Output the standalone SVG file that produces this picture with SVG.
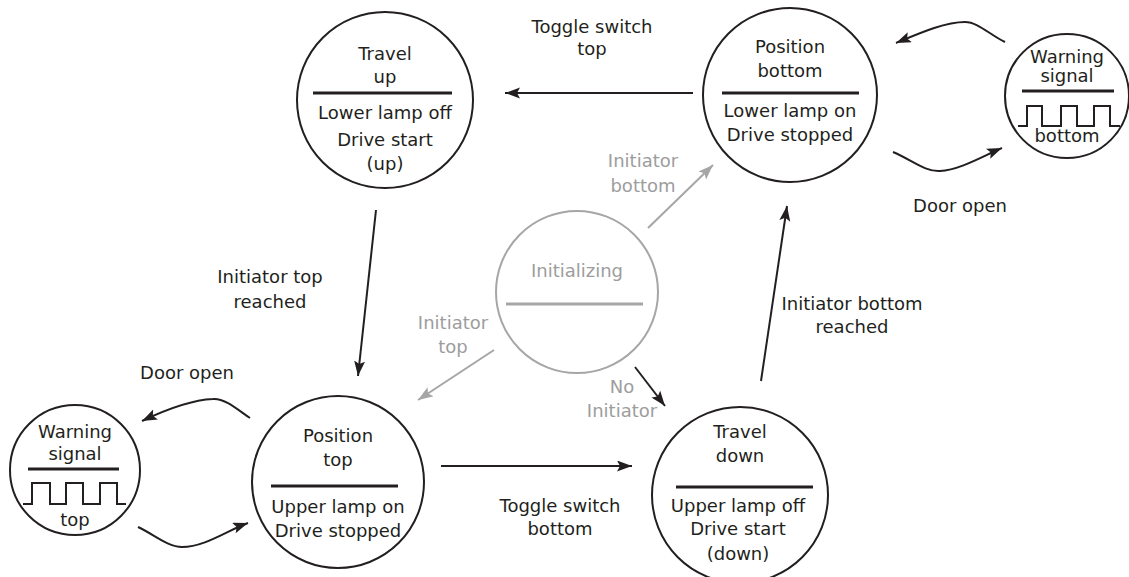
<svg xmlns="http://www.w3.org/2000/svg" width="1129" height="577" viewBox="0 0 1129 577">
<defs>
<style>
text{font-family:"DejaVu Sans","Verdana",sans-serif;font-size:18px;fill:#231f20;text-anchor:middle}
text.g{fill:#9d9d9d}
.st{fill:#fff;stroke:#231f20;stroke-width:2}
.sg{fill:#fff;stroke:#a6a6a6;stroke-width:2}
.dv{stroke:#231f20;stroke-width:3}
.dvg{stroke:#a6a6a6;stroke-width:3}
.wave{fill:none;stroke:#231f20;stroke-width:2}
.c{fill:none;stroke:#231f20;stroke-width:2;marker-end:url(#ah)}
.cg{fill:none;stroke:#a6a6a6;stroke-width:2;marker-end:url(#ahg)}
</style>
<marker id="ah" markerUnits="userSpaceOnUse" markerWidth="16" markerHeight="12" refX="15" refY="5.5" orient="auto">
<path d="M0,0 L15,5.5 L0,11 L3,5.5 z" fill="#231f20"/>
</marker>
<marker id="ahg" markerUnits="userSpaceOnUse" markerWidth="16" markerHeight="12" refX="15" refY="5.5" orient="auto">
<path d="M0,0 L15,5.5 L0,11 L3,5.5 z" fill="#a6a6a6"/>
</marker>
</defs>
<rect width="1129" height="577" fill="#fff"/>

<g id="connectors">
<line class="c" x1="693" y1="93" x2="505" y2="93"/>
<line class="c" x1="376" y1="210" x2="358" y2="376"/>
<line class="c" x1="441" y1="466" x2="632" y2="466"/>
<line class="c" x1="761" y1="381" x2="787" y2="206"/>
<path class="c" d="M893,152 C912,160 925,172 940,171 C960,170 985,155 1002,148"/>
<path class="c" d="M1005,42 C990,35 978,22 965,22 C945,22 920,33 896,43"/>
<path class="c" d="M250,418 C238,410 225,398 213,399 C190,400 165,410 142,421"/>
<path class="c" d="M138,527 C155,535 168,547 182,547 C205,547 228,530 248,523"/>
<line class="cg" x1="648" y1="228" x2="713" y2="165"/>
<line class="cg" x1="494" y1="350" x2="418" y2="400"/>
<line class="c" x1="635" y1="367" x2="665" y2="406"/>
<text x="592" y="33">Toggle switch</text>
<text x="592" y="55">top</text>
<text x="270" y="283">Initiator top</text>
<text x="270" y="308">reached</text>
<text x="560" y="512">Toggle switch</text>
<text x="560" y="535">bottom</text>
<text x="852" y="310">Initiator bottom</text>
<text x="852" y="333">reached</text>
<text x="960" y="212">Door open</text>
<text x="187" y="379">Door open</text>
<text class="g" x="643" y="167">Initiator</text>
<text class="g" x="643" y="192">bottom</text>
<text class="g" x="453" y="329">Initiator</text>
<text class="g" x="453" y="353">top</text>
<text class="g" x="622" y="393">No</text>
<text class="g" x="622" y="417">Initiator</text>
</g>

<g id="travel_up">
<circle class="st" cx="385" cy="100" r="88"/>
<line class="dv" x1="313" y1="93" x2="452" y2="93"/>
<text x="385" y="60">Travel</text>
<text x="385" y="83">up</text>
<text x="385" y="119">Lower lamp off</text>
<text x="385" y="146">Drive start</text>
<text x="385" y="170">(up)</text>
</g>

<g id="position_bottom">
<circle class="st" cx="790" cy="95" r="87"/>
<line class="dv" x1="722" y1="93" x2="859" y2="93"/>
<text x="790" y="53">Position</text>
<text x="790" y="77">bottom</text>
<text x="790" y="117">Lower lamp on</text>
<text x="790" y="141">Drive stopped</text>
</g>

<g id="warning_bottom">
<circle class="st" cx="1067" cy="96" r="62"/>
<line class="dv" x1="1022" y1="91" x2="1114" y2="91"/>
<text x="1067" y="63">Warning</text>
<text x="1067" y="82">signal</text>
<path class="wave" d="M1018,126 H1027 V106 H1042 V126 H1061 V106 H1077 V126 H1094 V106 H1110 V126 H1120"/>
<text x="1067" y="142">bottom</text>
</g>

<g id="initializing">
<circle class="sg" cx="577" cy="292" r="81"/>
<line class="dvg" x1="506" y1="304" x2="643" y2="304"/>
<text class="g" x="577" y="277">Initializing</text>
</g>

<g id="warning_top">
<circle class="st" cx="75" cy="470" r="65"/>
<line class="dv" x1="28" y1="469" x2="119" y2="469"/>
<text x="75" y="438">Warning</text>
<text x="75" y="460">signal</text>
<path class="wave" d="M23,504 H32 V483 H50 V504 H66 V483 H83 V504 H100 V483 H117 V504 H126"/>
<text x="75" y="526">top</text>
</g>

<g id="position_top">
<circle class="st" cx="338" cy="482" r="86"/>
<line class="dv" x1="271" y1="486" x2="398" y2="486"/>
<text x="338" y="442">Position</text>
<text x="338" y="466">top</text>
<text x="338" y="513">Upper lamp on</text>
<text x="338" y="537">Drive stopped</text>
</g>

<g id="travel_down">
<circle class="st" cx="740" cy="495" r="88"/>
<line class="dv" x1="676" y1="487" x2="813" y2="487"/>
<text x="740" y="438">Travel</text>
<text x="740" y="462">down</text>
<text x="738" y="512">Upper lamp off</text>
<text x="738" y="535">Drive start</text>
<text x="738" y="560">(down)</text>
</g>
</svg>
